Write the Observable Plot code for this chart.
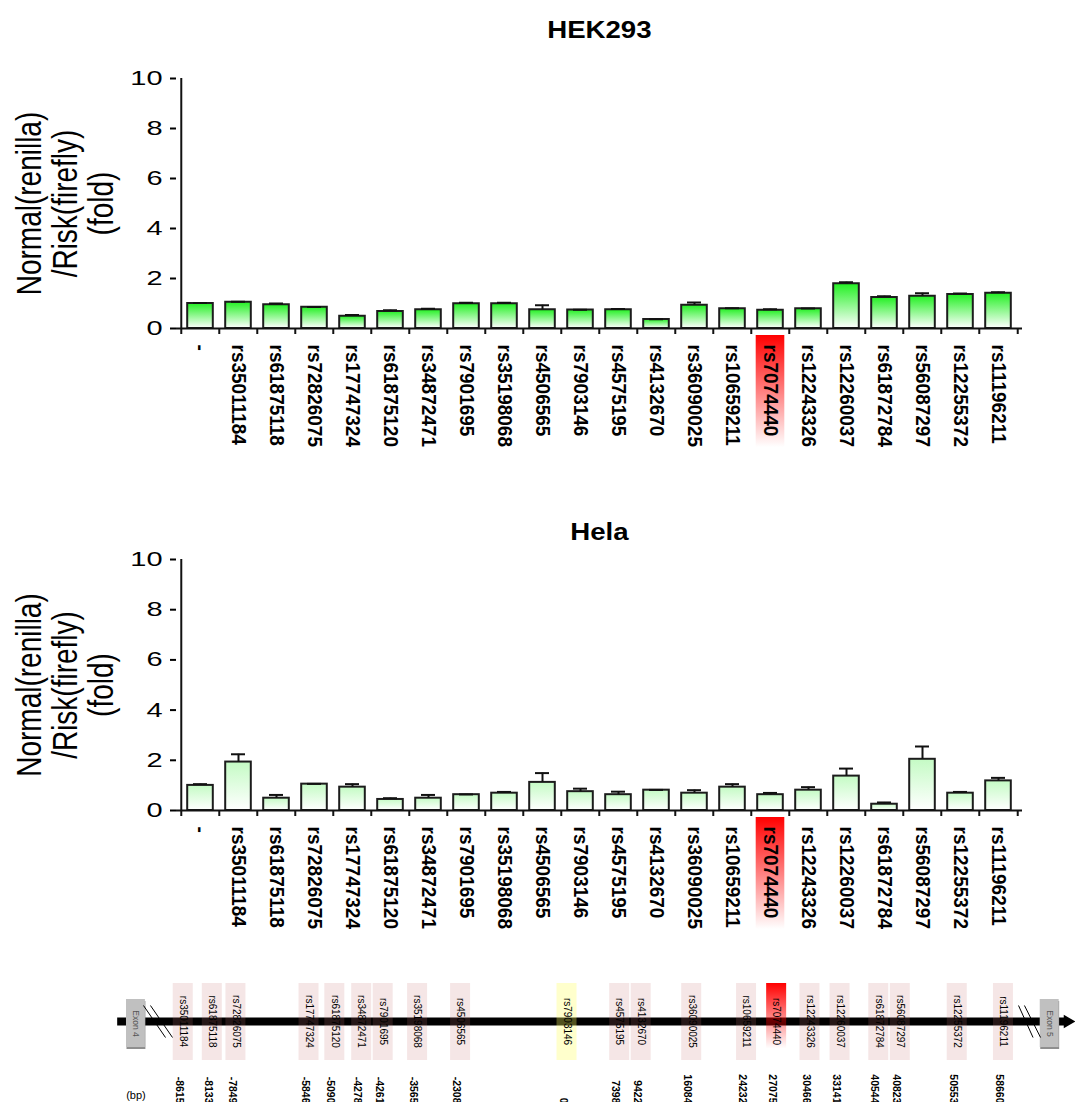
<!DOCTYPE html>
<html><head><meta charset="utf-8">
<script src="https://cdn.jsdelivr.net/npm/d3@7"></script>
<script src="https://cdn.jsdelivr.net/npm/@observablehq/plot@0.6"></script>
<style>
body{margin:0;background:#fff;font-family:"Liberation Sans",Arial,sans-serif;overflow:hidden}
#wrap{position:relative;width:1075px;height:1102px;overflow:hidden;background:#fff}
.title{position:absolute;left:176px;width:846px;height:40px;line-height:40px;text-align:center;font-weight:bold;font-size:24px;color:#000}
.title span{display:inline-block;transform:scaleX(1.15)}
.panel{position:absolute;left:0}
.panel svg{overflow:visible}
</style></head>
<body><div id="wrap">
<div class="title" style="top:10px"><span>HEK293</span></div>
<div class="panel" id="p1" style="top:50px"></div>
<div class="title" style="top:512px"><span>Hela</span></div>
<div class="panel" id="p2" style="top:531px"></div>
<div class="panel" id="p3" style="top:960px"></div>
</div>
<script>
// ---------- data ----------
const snps = ["-", "rs35011184", "rs61875118", "rs72826075", "rs17747324", "rs61875120", "rs34872471", "rs7901695", "rs35198068", "rs4506565", "rs7903146", "rs4575195", "rs4132670", "rs36090025", "rs10659211", "rs7074440", "rs12243326", "rs12260037", "rs61872784", "rs56087297", "rs12255372", "rs11196211"];
const hekValues = [1.00, 1.05, 0.95, 0.85, 0.49, 0.68, 0.75, 0.99, 0.99, 0.75, 0.74, 0.75, 0.36, 0.93, 0.79, 0.73, 0.79, 1.79, 1.24, 1.29, 1.36, 1.41];
const hekErrors = [0.02, 0.02, 0.05, 0.01, 0.05, 0.05, 0.04, 0.04, 0.04, 0.18, 0.01, 0.03, 0.01, 0.11, 0.02, 0.04, 0.01, 0.06, 0.05, 0.12, 0.04, 0.04];
const helaValues = [1.00, 1.93, 0.49, 1.05, 0.93, 0.44, 0.49, 0.63, 0.69, 1.12, 0.75, 0.63, 0.81, 0.69, 0.93, 0.63, 0.81, 1.37, 0.25, 2.04, 0.69, 1.18];
const helaErrors = [0.05, 0.31, 0.13, 0.01, 0.12, 0.05, 0.13, 0.01, 0.05, 0.37, 0.12, 0.12, 0.01, 0.12, 0.12, 0.07, 0.12, 0.30, 0.07, 0.51, 0.05, 0.12];
const yTicks = [0, 2, 4, 6, 8, 10];
const yLabel = "Normal(renilla)\n/Risk(firefly)\n(fold)";
const highlightedSnp = "rs7074440";
const referenceSnp = "rs7903146";

// gene map (schematic, not to scale)
const mapSnps = ["rs35011184", "rs61875118", "rs72826075", "rs17747324", "rs61875120", "rs34872471", "rs7901695", "rs35198068", "rs4506565", "rs7903146", "rs4575195", "rs4132670", "rs36090025", "rs10659211", "rs7074440", "rs12243326", "rs12260037", "rs61872784", "rs56087297", "rs12255372", "rs11196211"];
const mapBp = [-8615, -8133, -7849, -5846, -5090, -4278, -4261, -3565, -2308, 0, 7398, 9422, 16084, 24232, 27075, 30466, 33141, 40544, 40823, 50553, 58660];
const mapSlot = [17.0, 19.7, 21.9, 28.7, 31.1, 33.6, 35.6, 38.8, 42.8, 52.7, 57.6, 59.6, 64.3, 69.4, 72.2, 75.3, 78.1, 81.7, 83.7, 89.0, 93.3];
const exons = ["Exon 4", "Exon 5"];
const exonSlot = [12.6, 97.6];
const trackStart = 10.9, trackEnd = 99.27;

// ---------- helpers ----------
const FONT = '"Liberation Sans", Arial, sans-serif';
function stretch(svg, selector, s, rotS) {
  svg.querySelectorAll(selector).forEach(t => {
    let tr = t.getAttribute("transform");
    if (!tr) {
      const x = t.getAttribute("x") || 0, y = t.getAttribute("y") || 0;
      tr = `translate(${x},${y})`;
      t.removeAttribute("x"); t.removeAttribute("y");
    }
    if (/rotate\(\s*-90/.test(tr)) t.setAttribute("transform", tr + ` scale(1,${rotS[1]})`);
    else if (/rotate\(\s*90/.test(tr)) t.setAttribute("transform", tr + ` scale(1,${rotS[0]})`);
    else t.setAttribute("transform", tr + ` scale(${s},1)`);
  });
}

function panel(values, errors, id, topColor, plotH, H) {
  const data = snps.map((s, i) => ({snp: s, v: values[i], e: errors[i]}));
  const W = 1075, ml = 176, mr = 53, mt = 28, mb = H - mt - plotH;
  const step = (W - ml - mr) / snps.length;
  const ppu = plotH / 10;
  const defs = () => {
    const d = d3.create("svg:defs");
    const g = d.append("linearGradient").attr("id", id).attr("x1", 0).attr("y1", 0).attr("x2", 0).attr("y2", 1);
    g.append("stop").attr("offset", "0%").attr("stop-color", topColor);
    g.append("stop").attr("offset", "100%").attr("stop-color", "#ffffff");
    const r = d.append("linearGradient").attr("id", id + "-hl").attr("x1", 0).attr("y1", 0).attr("x2", 0).attr("y2", 1);
    r.append("stop").attr("offset", "0%").attr("stop-color", "#ff0000");
    r.append("stop").attr("offset", "100%").attr("stop-color", "#ffffff");
    return d.node();
  };
  const svg = Plot.plot({
    width: W, height: H, marginLeft: ml, marginRight: mr, marginTop: mt, marginBottom: mb,
    style: {fontFamily: FONT, background: "transparent", color: "#000"},
    x: {type: "band", domain: snps, padding: 0, axis: null},
    y: {domain: [0, 10], axis: null},
    marks: [
      defs,
      Plot.barY([highlightedSnp], {x: d => d, y1: -7 / ppu, y2: -119 / ppu, fill: `url(#${id}-hl)`, insetLeft: 4.7, insetRight: 4.7}),
      Plot.barY(data, {x: "snp", y: "v", fill: `url(#${id})`, stroke: "#1c1c1c", strokeWidth: 2, insetLeft: 6.2, insetRight: 6.2}),
      Plot.ruleX(data, {x: "snp", y1: "v", y2: d => d.v + d.e, stroke: "#111", strokeWidth: 2}),
      Plot.tickY(data, {x: "snp", y: d => d.v + d.e, stroke: "#111", strokeWidth: 2, insetLeft: 12, insetRight: 12}),
      Plot.ruleY([0], {stroke: "#111", strokeWidth: 2}),
      Plot.ruleX(snps, {x: d => d, dx: -step / 2, y1: 0, y2: -6 / ppu, stroke: "#111", strokeWidth: 2}),
      Plot.ruleX([snps[snps.length - 1]], {x: d => d, dx: step / 2, y1: 0, y2: -6 / ppu, stroke: "#111", strokeWidth: 2}),
      Plot.ruleX([snps[0]], {x: d => d, dx: -step / 2, y1: 0, y2: 10, stroke: "#111", strokeWidth: 2}),
      Plot.axisY({ticks: yTicks, tickSize: 6, tickPadding: 8, fontSize: 20, strokeWidth: 2, label: null, tickFormat: d => String(d)}),
      Plot.text(snps, {x: d => d, y: 0, dy: 16, rotate: 90, textAnchor: "start", fontSize: 19, fontWeight: "bold", fill: "#000"}),
      Plot.text([yLabel], {frameAnchor: "left", dx: -111, rotate: -90, textAnchor: "middle", lineAnchor: "middle", fontSize: 28, lineHeight: 1.05, fill: "#000"})
    ]
  });
  stretch(svg, 'g[aria-label="y-axis tick label"] text', 1.45, [1.1, 1.22]);
  stretch(svg, 'g[aria-label="text"] text', 1, [1.1, 1.22]);
  return svg;
}

document.getElementById("p1").appendChild(panel(hekValues, hekErrors, "gHek", "#22f022", 250, 420));
document.getElementById("p2").appendChild(panel(helaValues, helaErrors, "gHela", "#c4fbc4", 251, 421));

// ---------- gene map ----------
(function () {
  const snpIdx = mapSnps.map((s, i) => i);
  const halfW = 0.93;
  const defs = () => {
    const d = d3.create("svg:defs");
    const r = d.append("linearGradient").attr("id", "mapRed").attr("x1", 0).attr("y1", 0).attr("x2", 0).attr("y2", 1);
    r.append("stop").attr("offset", "0%").attr("stop-color", "#ff0000").attr("stop-opacity", 1);
    r.append("stop").attr("offset", "85%").attr("stop-color", "#ff0000").attr("stop-opacity", 0);
    return d.node();
  };
  const slashes = [
    {x1: exonSlot[0] + 0.70, x2: exonSlot[0] + 2.75},
    {x1: exonSlot[0] + 1.35, x2: exonSlot[0] + 3.40},
    {x1: exonSlot[1] - 2.90, x2: exonSlot[1] - 1.55},
    {x1: exonSlot[1] - 2.35, x2: exonSlot[1] - 0.85}
  ];
  const pink = snpIdx.filter(i => mapSnps[i] !== highlightedSnp && mapSnps[i] !== referenceSnp);
  const red = snpIdx.filter(i => mapSnps[i] === highlightedSnp);
  const yellow = snpIdx.filter(i => mapSnps[i] === referenceSnp);
  const svg = Plot.plot({
    width: 1075, height: 145, margin: 0,
    style: {fontFamily: FONT, background: "transparent", color: "#000"},
    x: {domain: [0, 100], axis: null},
    y: {domain: [-61, 84], reverse: true, axis: null},
    marks: [
      defs,
      Plot.ruleY([0], {x1: trackStart, x2: trackEnd, stroke: "#000", strokeWidth: 8}),
      Plot.dot([trackEnd], {x: d => d, y: 0, symbol: "triangle", rotate: 90, r: 5, fill: "#000", stroke: "none"}),
      Plot.rect(exons, {x1: (d, i) => exonSlot[i] - 0.88, x2: (d, i) => exonSlot[i] + 0.88, y1: -21, y2: 27, fill: "#8f8f8f", dx: 0.5, dy: 1}),
      Plot.rect(exons, {x1: (d, i) => exonSlot[i] - 0.88, x2: (d, i) => exonSlot[i] + 0.88, y1: -22, y2: 26, fill: "#c0c0c0"}),
      Plot.text(exons, {x: (d, i) => exonSlot[i], y: 2, rotate: 90, fontSize: 8.5, fill: "#555"}),
      Plot.link(slashes, {x1: "x1", x2: "x2", y1: -16, y2: 16, stroke: "#000", strokeWidth: 1}),
      Plot.rect(pink, {x1: i => mapSlot[i] - halfW, x2: i => mapSlot[i] + halfW, y1: -38, y2: 39, fill: "#c87878", fillOpacity: 0.19}),
      Plot.rect(yellow, {x1: i => mapSlot[i] - halfW, x2: i => mapSlot[i] + halfW, y1: -38, y2: 39, fill: "#ffff60", fillOpacity: 0.32}),
      Plot.rect(red, {x1: i => mapSlot[i] - halfW, x2: i => mapSlot[i] + halfW, y1: -38, y2: 39, fill: "url(#mapRed)"}),
      Plot.text(snpIdx, {x: i => mapSlot[i], y: 0, text: i => mapSnps[i], rotate: 90, fontSize: 10, fill: "#000"}),
      Plot.text(snpIdx, {x: i => mapSlot[i], y: 82, dx: -4, text: i => String(mapBp[i]), rotate: 90, textAnchor: "end", fontSize: 10.5, fontWeight: "bold", fill: "#000"}),
      Plot.text(["(bp)"], {x: exonSlot[0], y: 74, fontSize: 11, fill: "#000"})
    ]
  });
  document.getElementById("p3").appendChild(svg);
})();
</script>
</body></html>
